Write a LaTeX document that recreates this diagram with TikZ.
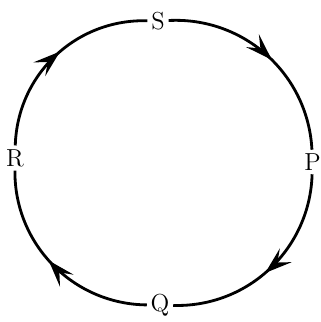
\documentclass[tikz,border=0pt]{standalone}
\usetikzlibrary{arrows.meta, decorations.markings}

\begin{document}
\begin{tikzpicture}[
    lbl/.style={inner sep=2pt, font=\fontsize{14}{16}\selectfont},
    flow/.style={line width=1.6pt, postaction={decorate},
      decoration={markings, mark=at position 0.53 with {\arrow{Stealth[length=5.4mm, width=3.6mm, inset=2.2mm]}}}}
  ]
  \useasboundingbox (0,0) rectangle (6.42,6.44);
  \node[lbl] (S) at (3.16,6.02) {S};
  \node[lbl] (P) at (6.25,3.20) {P};
  \node[lbl] (Q) at (3.20,0.34) {Q};
  \node[lbl] (R) at (0.30,3.28) {R};
  \foreach \a/\b in {S/P, P/Q, Q/R, R/S} {
    \draw[flow] (\a) to[bend left=45] (\b);
  }
\end{tikzpicture}
\end{document}
